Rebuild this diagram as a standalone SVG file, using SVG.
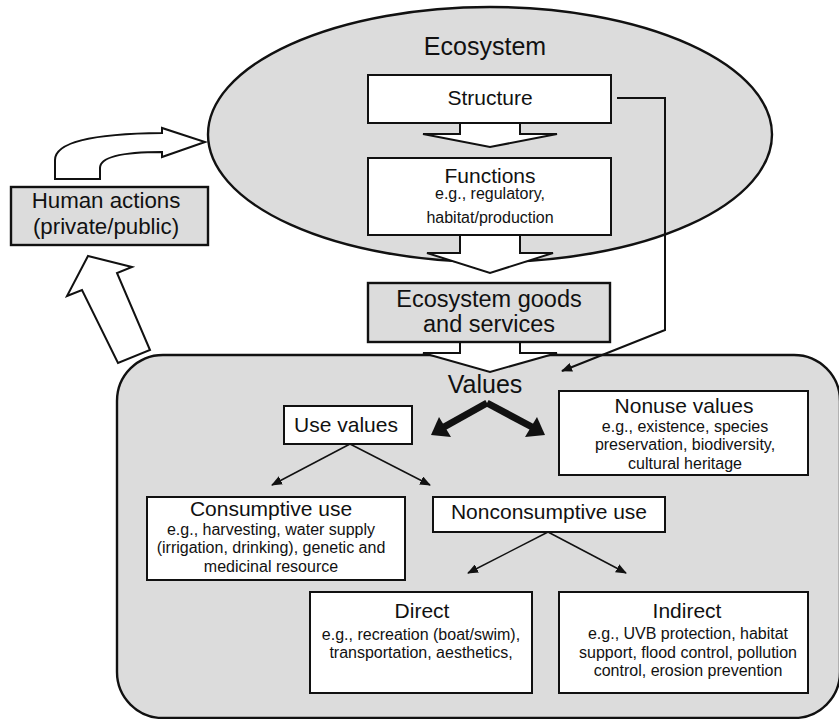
<svg xmlns="http://www.w3.org/2000/svg" width="839" height="719" viewBox="0 0 839 719">
<style>
text{font-family:"Liberation Sans",Arial,sans-serif;fill:#111;text-anchor:middle}
.gray{fill:#dcdcdc;stroke:#111;stroke-width:2.4}
.box{fill:#fff;stroke:#111;stroke-width:2}
.blk{fill:#fff;stroke:#111;stroke-width:2;stroke-linejoin:miter}
.thin{fill:none;stroke:#111;stroke-width:1.5}
.t25{font-size:25px}
.t21{font-size:21px}
.t16{font-size:16px}
</style>
<defs>
<marker id="ah" markerUnits="userSpaceOnUse" markerWidth="11" markerHeight="9" refX="10" refY="4.5" orient="auto">
<path d="M0,0 L11,4.5 L0,9 z" fill="#111"/>
</marker>
</defs>

<g id="values-area">
<rect class="gray" x="117" y="355" width="723" height="363" rx="46" ry="46" stroke-width="2.6"/>
<text class="t25" x="485" y="393" font-size="26">Values</text>
</g>

<g id="ecosystem">
<ellipse class="gray" cx="490" cy="134.5" rx="282" ry="127.5"/>
<text class="t25" x="485" y="55">Ecosystem</text>
</g>

<g id="connectors">
<polygon class="blk" points="460,123 460,134 423,134 490,147 557,134 520,134 520,123"/>
<polygon class="blk" points="460,235 460,253 427,253 490,273 553,253 520,253 520,235"/>
<polygon class="blk" points="460,342 460,353 423,353 490,372 557,353 520,353 520,342"/>
<path class="blk" d="M55,179 L55,160 Q55,134 162,133 L162,128 L205,142 L162,157 L162,152 Q100,152 100,168 L100,179 Z"/>
<polygon class="blk" points="88,256 132,267 117,273 150,350 118,363 82,290 67,296"/>
<polyline points="617,98 665,98 665,330 562,371" fill="none" stroke="#111" stroke-width="2" marker-end="url(#ah)"/>
<line class="thin" x1="350" y1="444" x2="272" y2="485" marker-end="url(#ah)"/>
<line class="thin" x1="350" y1="444" x2="430" y2="485" marker-end="url(#ah)"/>
<line class="thin" x1="548" y1="532" x2="468" y2="573" marker-end="url(#ah)"/>
<line class="thin" x1="548" y1="532" x2="626" y2="573" marker-end="url(#ah)"/>
<polyline points="487,403 444,427" fill="none" stroke="#111" stroke-width="7"/>
<polygon points="431,435 439,417 451,437" fill="#111"/>
<polyline points="487,403 532,427" fill="none" stroke="#111" stroke-width="7"/>
<polygon points="545,435 525,437 537,417" fill="#111"/>
</g>

<g id="structure">
<rect class="box" x="368" y="75" width="243" height="48"/>
<text class="t21" x="490" y="105" font-size="20.5">Structure</text>
</g>

<g id="functions">
<rect class="box" x="368" y="158" width="243" height="77"/>
<text class="t21" x="490" y="183">Functions</text>
<text class="t16" x="490" y="199">e.g., regulatory,</text>
<text class="t16" x="490" y="223">habitat/production</text>
</g>

<g id="goods">
<rect class="gray" x="368" y="283" width="242" height="59" stroke-width="2.6"/>
<text x="489" y="307" font-size="23.5">Ecosystem goods</text>
<text x="489" y="332" font-size="23.5">and services</text>
</g>

<g id="human-actions">
<rect class="gray" x="11" y="187" width="197" height="58" stroke-width="3"/>
<text x="106" y="208" font-size="22.3">Human actions</text>
<text x="106" y="234" font-size="22.3">(private/public)</text>
</g>

<g id="use-values">
<rect class="box" x="284" y="406" width="128" height="38"/>
<text class="t21" x="346" y="432">Use values</text>
</g>

<g id="nonuse-values">
<rect class="box" x="559" y="391" width="249" height="84"/>
<text class="t21" x="684" y="413">Nonuse values</text>
<text class="t16" x="685" y="432">e.g., existence, species</text>
<text class="t16" x="685" y="450">preservation, biodiversity,</text>
<text class="t16" x="685" y="469">cultural heritage</text>
</g>

<g id="consumptive-use">
<rect class="box" x="147" y="497" width="258" height="83"/>
<text class="t21" x="271" y="516">Consumptive use</text>
<text class="t16" x="271" y="535">e.g., harvesting, water supply</text>
<text class="t16" x="271" y="553">(irrigation, drinking), genetic and</text>
<text class="t16" x="271" y="572">medicinal resource</text>
</g>

<g id="nonconsumptive-use">
<rect class="box" x="433" y="497" width="232" height="35"/>
<text class="t21" x="549" y="519">Nonconsumptive use</text>
</g>

<g id="direct">
<rect class="box" x="310" y="592" width="222" height="101"/>
<text class="t21" x="422" y="618">Direct</text>
<text class="t16" x="421" y="640">e.g., recreation (boat/swim),</text>
<text class="t16" x="421" y="658">transportation, aesthetics,</text>
</g>

<g id="indirect">
<rect class="box" x="559" y="592" width="249" height="101"/>
<text class="t21" x="687" y="618">Indirect</text>
<text class="t16" x="688" y="639">e.g., UVB protection, habitat</text>
<text class="t16" x="688" y="658">support, flood control, pollution</text>
<text class="t16" x="688" y="676">control, erosion prevention</text>
</g>
</svg>
